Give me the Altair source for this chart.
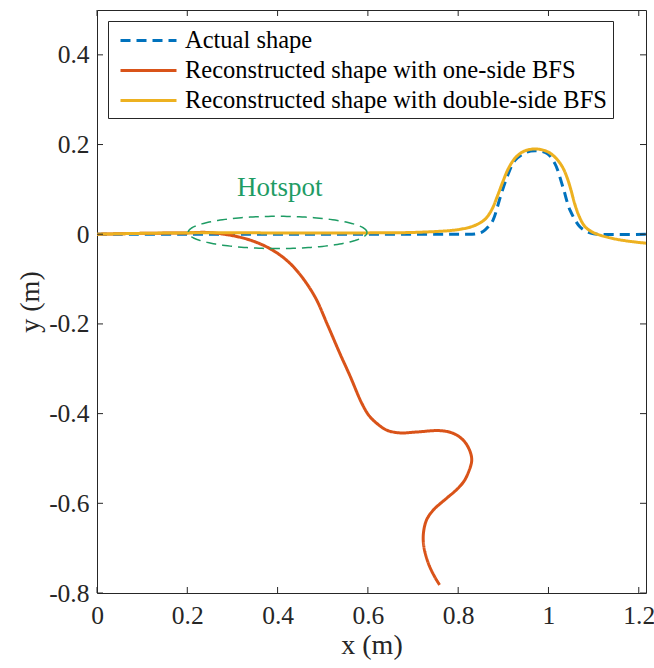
import altair as alt
import numpy as np
import pandas as pd

# ---- curves (x, y in metres) ----
actual_x = [0.0, 0.2, 0.4, 0.6, 0.8, 0.84, 0.855, 0.866, 0.877, 0.893, 0.908,
            0.926, 0.952, 0.975, 0.997, 1.014, 1.032, 1.048, 1.07, 1.085, 1.10, 1.216]
actual_y = [0.0, 0.0, 0.0, 0.0, 0.0, 0.001, 0.006, 0.016, 0.031, 0.082, 0.127,
            0.165, 0.183, 0.186, 0.18, 0.158, 0.105, 0.053, 0.016, 0.006, 0.001, 0.0]

one_side_x = [0.0, 0.1, 0.2, 0.243, 0.294, 0.339, 0.383, 0.42, 0.449, 0.483, 0.511,
              0.538, 0.56, 0.587, 0.603, 0.62, 0.642, 0.671, 0.708, 0.76, 0.789,
              0.811, 0.825, 0.83, 0.823, 0.812, 0.795, 0.774, 0.745, 0.73,
              0.723, 0.724, 0.734, 0.748, 0.759]
one_side_y = [0.0, 0.002, 0.003, 0.004, -0.002, -0.013, -0.032, -0.058, -0.089, -0.14,
              -0.203, -0.266, -0.315, -0.378, -0.405, -0.422, -0.437, -0.443, -0.441,
              -0.438, -0.444, -0.459, -0.481, -0.504, -0.53, -0.552, -0.571, -0.589,
              -0.615, -0.637, -0.667, -0.697, -0.734, -0.764, -0.782]

double_side_x = [0.0, 0.1, 0.2, 0.4, 0.6, 0.7, 0.78, 0.81, 0.83, 0.848, 0.862,
                 0.875, 0.888, 0.9, 0.912, 0.928, 0.948, 0.975, 1.0, 1.018, 1.032,
                 1.042, 1.05, 1.058, 1.068, 1.08, 1.095, 1.114, 1.145, 1.174, 1.216]
double_side_y = [0.0, 0.002, 0.003, 0.003, 0.003, 0.004, 0.008, 0.012, 0.017, 0.025,
                 0.036, 0.056, 0.088, 0.12, 0.148, 0.172, 0.186, 0.19, 0.183, 0.168,
                 0.148, 0.124, 0.098, 0.068, 0.04, 0.018, 0.006, -0.002, -0.01,
                 -0.015, -0.02]

series_names = ["Actual shape",
                "Reconstructed shape with one-side BFS",
                "Reconstructed shape with double-side BFS"]
series_colors = ["#0072BD", "#D95319", "#EDB120"]

# hotspot ellipse: centre and semi-axes
hot_cx, hot_cy = 0.4, 0.004
hot_rx, hot_ry = 0.198, 0.036
hot_label_x, hot_label_y = 0.405, 0.103

x_ticks = [0, 0.2, 0.4, 0.6, 0.8, 1.0, 1.2]
y_ticks = [-0.8, -0.6, -0.4, -0.2, 0, 0.2, 0.4]
X_DOMAIN = [0, 1.216]
Y_DOMAIN = [-0.8, 0.5]

W, H = 549, 583
FONT = "Liberation Serif"
INK = "#262626"
GREEN = "#1E9C64"

frames = []
for name, xs, ys in [(series_names[0], actual_x, actual_y),
                     (series_names[1], one_side_x, one_side_y),
                     (series_names[2], double_side_x, double_side_y)]:
    frames.append(pd.DataFrame({"x": xs, "y": ys, "i": range(len(xs)), "series": name}))
curves = pd.concat(frames, ignore_index=True)

t = np.linspace(0, 2 * np.pi, 181)
ellipse = pd.DataFrame({"x": hot_cx + hot_rx * np.cos(t),
                        "y": hot_cy + hot_ry * np.sin(t),
                        "i": range(len(t))})

xs = alt.Scale(domain=X_DOMAIN, nice=False, zero=False)
ys = alt.Scale(domain=Y_DOMAIN, nice=False, zero=False)

x_axis = alt.Axis(values=x_ticks, title="x (m)", grid=False, ticks=False, domain=False,
                  labelExpr="format(datum.value, '~g')", labelPadding=10,
                  titlePadding=3, labelFlush=False)
y_axis = alt.Axis(values=y_ticks, title="y (m)", grid=False, ticks=False, domain=False,
                  labelExpr="datum.value < 0 ? '-' + format(-datum.value, '.1f') : (datum.value == 0 ? '0' : format(datum.value, '.1f'))",
                  labelPadding=8, titlePadding=4, labelFlush=False)

# legend sample line: a 56 px stroke, offset a little from the symbol's left edge
LEGEND_LINE = "M-0.583,0L4.083,0"

lines = alt.Chart(curves).mark_line(strokeWidth=3, interpolate="catmull-rom", clip=True).encode(
    x=alt.X("x:Q", scale=xs, axis=x_axis),
    y=alt.Y("y:Q", scale=ys, axis=y_axis),
    order=alt.Order("i:Q"),
    color=alt.Color("series:N",
                    scale=alt.Scale(domain=series_names, range=series_colors),
                    sort=series_names,
                    legend=alt.Legend(title=None)),
    strokeDash=alt.StrokeDash("series:N",
                              scale=alt.Scale(domain=series_names,
                                              range=[[10, 6], [1, 0], [1, 0]]),
                              sort=series_names,
                              legend=alt.Legend(title=None)),
)

hotspot = alt.Chart(ellipse).mark_line(strokeWidth=1.5, color=GREEN, strokeDash=[10, 6]).encode(
    x=alt.X("x:Q", scale=xs), y=alt.Y("y:Q", scale=ys), order="i:Q")

hot_text = alt.Chart(pd.DataFrame({"x": [hot_label_x], "y": [hot_label_y], "t": ["Hotspot"]})).mark_text(
    font=FONT, fontSize=27, color=GREEN).encode(
    x=alt.X("x:Q", scale=xs), y=alt.Y("y:Q", scale=ys), text="t:N")

# inward tick marks on all four sides of the box
xt = pd.DataFrame({"v": x_ticks})
yt = pd.DataFrame({"v": y_ticks})
tick_len = 6
tb = alt.Chart(xt).mark_rule(color=INK, strokeWidth=1).encode(
    x=alt.X("v:Q", scale=xs), y=alt.value(H), y2=alt.value(H - tick_len))
tt = alt.Chart(xt).mark_rule(color=INK, strokeWidth=1).encode(
    x=alt.X("v:Q", scale=xs), y=alt.value(0), y2=alt.value(tick_len))
tl = alt.Chart(yt).mark_rule(color=INK, strokeWidth=1).encode(
    y=alt.Y("v:Q", scale=ys), x=alt.value(0), x2=alt.value(tick_len))
tr = alt.Chart(yt).mark_rule(color=INK, strokeWidth=1).encode(
    y=alt.Y("v:Q", scale=ys), x=alt.value(W), x2=alt.value(W - tick_len))

chart = alt.layer(lines, hotspot, hot_text, tb, tt, tl, tr).properties(
    width=W, height=H,
    autosize=alt.AutoSizeParams(type="none"),
    padding={"left": 97, "top": 10, "right": 654 - 97 - W, "bottom": 668 - 10 - H},
    background="white",
).configure_view(
    stroke=INK, strokeWidth=1
).configure_axis(
    labelFont=FONT, labelFontSize=25.5, labelColor=INK,
    titleFont=FONT, titleFontSize=28, titleColor=INK, titleFontWeight="normal",
).configure_legend(
    orient="none", legendX=11, legendY=11,
    fillColor="white", strokeColor=INK, padding=6,
    labelFont=FONT, labelFontSize=24.5, labelColor="black", labelLimit=600,
    symbolType=LEGEND_LINE, symbolSize=576, symbolStrokeWidth=3,
    labelOffset=44, rowPadding=5, cornerRadius=0,
)

chart.save("out.html", embed_options={"renderer": "svg", "actions": False})
